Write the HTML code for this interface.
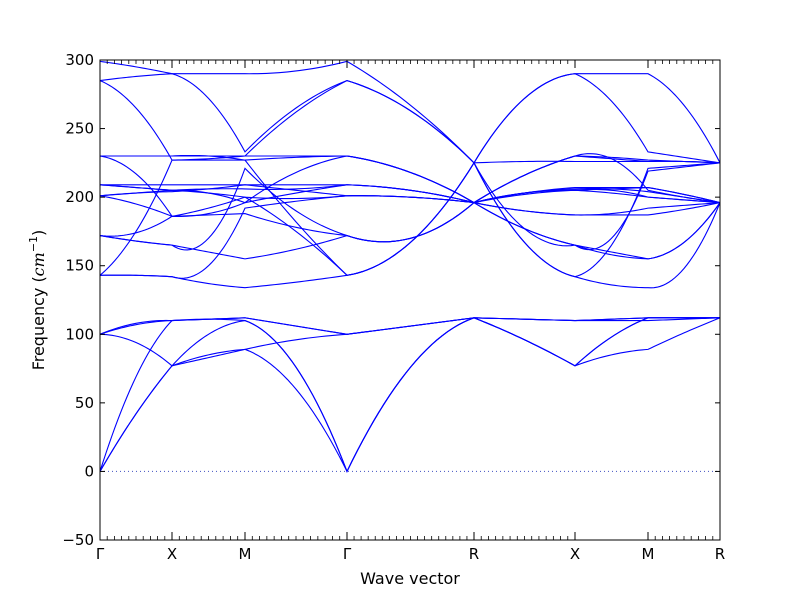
<!DOCTYPE html>
<html><head><meta charset="utf-8"><style>
body{margin:0;background:#fff}
svg text{font-family:"DejaVu Sans","Liberation Sans",sans-serif;fill:#000}
</style></head><body>
<svg id="chart" width="800" height="600" viewBox="0 0 800 600" xmlns="http://www.w3.org/2000/svg">
<rect x="0" y="0" width="800" height="600" fill="#fff"/>
<g id="bands"></g>
<g id="axes"></g>
<text x="410" y="584" font-size="16" text-anchor="middle">Wave vector</text>
<text transform="translate(44,300) rotate(-90)" font-size="16" text-anchor="middle">Frequency (<tspan font-style="italic" font-family="DejaVu Serif, serif">cm</tspan><tspan font-size="11" dy="-7">−1</tspan><tspan dy="7">)</tspan></text>
</svg>
<script>
// k-path labels and segment lengths (path distance units)
const kLabels = ["Γ","X","M","Γ","R","X","M","R"];
const segLen = [72,73,102,127,101,73,72];
const minorTickSegments = [1,1,1,1,1,0,1];
const yTicks = [-50,0,50,100,150,200,250,300];
// each band: values at [Γ, mid, X, mid, M, mid, Γ, mid, R, mid, X, mid, M, mid, R]
const bandA1 = [0,42,77, 83,89, 60,0, 76,112, 96,77, 85,89, 101,112];
const bandA2 = [0,42,77, 100,110, 76,0, 76,112, 96,77, 98,112, 112,112];
const bandA3 = [0,69,110, 111,110, 76,0, 76,112, 96,77, 98,112, 112,112];
const bandO1 = [100,94,77, 85,89, 96,100, 106,112, 111,110, 110,110, 111,112];
const bandO2 = [100,107,110, 111,112, 106,100, 106,112, 111,110, 111,112, 112,112];
const bandO3 = [100,108,110, 111,112, 106,100, 106,112, 111,110, 111,112, 112,112];
const bandH1 = [299,295,290, 290,290, 292,299, 267,225, 272,290, 290,290, 267,225];
const bandH2 = [285,288,290, 272,233, 265,285, 263,225, 272,290, 270,233, 229,225];
const bandH3 = [230,230,230, 230,227, 229,230, 218,196, 216,230, 228,205, 200,196];
const bandH4 = [230,230,230, 230,230, 230,230, 218,196, 216,230, 229,227, 226,225];
const bandH5 = [285,265,227, 227,227, 182,143, 167,225, 167,142, 165,221, 223,225];
const bandH6 = [230,217,186, 187,188, 178,172, 170,196, 216,230, 228,226, 226,225];
const bandH7 = [209,209,209, 209,209, 209,209, 205,196, 203,206, 206,204, 200,196];
const bandH8 = [209,207,205, 206,206, 206,209, 205,196, 202,205, 206,207, 202,196];
const bandH9 = [201,203,205, 203,200, 199,201, 200,196, 190,187, 187,187, 191,196];
const bandH10 = [172,174,186, 188,196, 218,230, 218,196, 203,207, 207,207, 202,196];
const bandH11 = [201,203,204, 206,209, 205,201, 200,196, 203,205, 203,200, 198,196];
const bandH12 = [143,143,142, 150,192, 197,201, 200,196, 177,165, 170,219, 222,225];
const bandH13 = [201,195,186, 192,200, 175,143, 167,225, 167,142, 136,134, 148,196];
const bandH14 = [172,168,165, 160,155, 162,172, 170,196, 177,165, 160,155, 167,196];
const bandH15 = [172,168,165, 170,221, 190,172, 170,196, 203,205, 205,200, 198,196];
const bandH16 = [143,175,227, 228,230, 262,285, 263,225, 226,226, 226,226, 226,225];
const bandH17 = [143,143,142, 137,134, 138,143, 167,225, 177,165, 158,155, 167,196];
const bandH18 = [209,207,205, 203,196, 203,209, 205,196, 190,187, 188,192, 194,196];
const bands = [bandA1,bandA2,bandA3,bandO1,bandO2,bandO3,bandH1,bandH2,bandH3,bandH4,bandH5,bandH6,bandH7,bandH8,bandH9,bandH10,bandH11,bandH12,bandH13,bandH14,bandH15,bandH16,bandH17,bandH18];

const NS = "http://www.w3.org/2000/svg";
const L = 100, R = 720, T = 60, B = 540, yMin = -50, yMax = 300;
const totalK = segLen.reduce((a,b)=>a+b,0);
const kStart = [0]; segLen.forEach((s,i)=>kStart.push(kStart[i]+s));
const xScale = k => L + (k/totalK)*(R-L);
const yScale = v => B - (v-yMin)/(yMax-yMin)*(B-T);

function mk(tag, attrs, parent){const e=document.createElementNS(NS,tag);for(const k in attrs)e.setAttribute(k,attrs[k]);parent.appendChild(e);return e;}

const bandG = document.getElementById('bands');
const axG = document.getElementById('axes');

const zl = mk('line',{x1:L,x2:R,y1:yScale(0),y2:yScale(0),stroke:'#4050c0','stroke-width':1,'stroke-dasharray':'1,3'},axG);



bands.forEach((b,bi)=>{
  let d='';
  for(let s=0;s<segLen.length;s++){
    const a=b[2*s], m=b[2*s+1], c=b[2*s+2];
    for(let j=0;j<=24;j++){
      const t=j/24;
      const v=a*(1-t)*(1-2*t)+4*m*t*(1-t)+c*t*(2*t-1);
      const x=xScale(kStart[s]+t*segLen[s]), y=yScale(v);
      d+=(s===0&&j===0?'M':'L')+x.toFixed(2)+','+y.toFixed(2);
    }
  }
  const p=mk('path',{d:d,fill:'none',stroke:'#0000ff','stroke-width':1.1},bandG);
  
  
});

const fr = mk('rect',{x:L,y:T,width:R-L,height:B-T,fill:'none',stroke:'#000','stroke-width':1},axG);



yTicks.forEach(v=>{
  const y=yScale(v);
  mk('line',{x1:L,x2:L+5,y1:y,y2:y,stroke:'#000'},axG);
  mk('line',{x1:R-5,x2:R,y1:y,y2:y,stroke:'#000'},axG);
  const t=mk('text',{x:L-6,y:y+5,'font-size':15,'text-anchor':'end'},axG);
  t.textContent = v<0 ? '−'+Math.abs(v) : String(v);
  
  
});

kLabels.forEach((lab,i)=>{
  const x=xScale(kStart[i]);
  mk('line',{x1:x,x2:x,y1:B,y2:B-8,stroke:'#000'},axG);
  mk('line',{x1:x,x2:x,y1:T,y2:T+8,stroke:'#000'},axG);
  const t=mk('text',{x:x,y:B+19,'font-size':15,'text-anchor':'middle'},axG);
  t.textContent=lab;
  
  
});
segLen.forEach((s,i)=>{
  if(!minorTickSegments[i]) return;
  const n=Math.round(s/7.25);
  for(let j=1;j<n;j++){
    const x=xScale(kStart[i]+s*j/n);
    mk('line',{x1:x,x2:x,y1:B,y2:B-4,stroke:'#000','stroke-width':0.8},axG);
    mk('line',{x1:x,x2:x,y1:T,y2:T+4,stroke:'#000','stroke-width':0.8},axG);
  }
});
</script>
</body></html>
